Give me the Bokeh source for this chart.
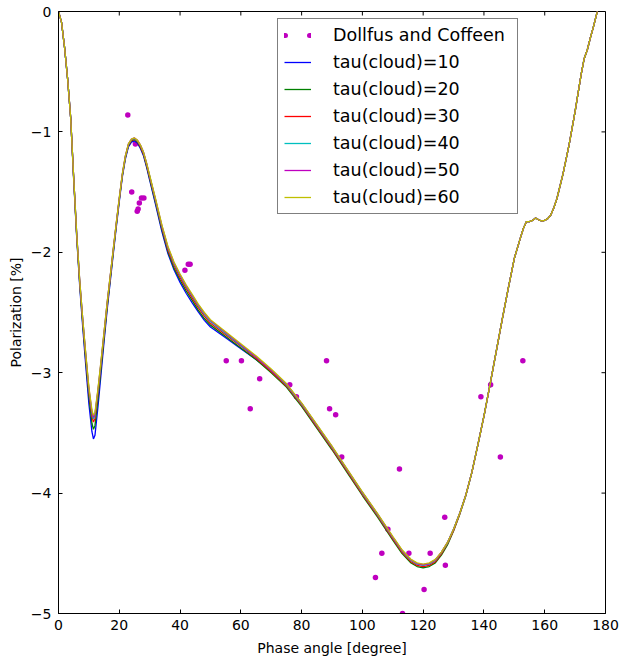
import math
from bokeh.plotting import figure
from bokeh.models import (Range1d, FixedTicker, Legend, LegendItem,
                          CustomJSTickFormatter)
from bokeh.embed import file_html
from bokeh.resources import INLINE

# ---- observations (Dollfus and Coffeen) ----
obs_angle = [22.8, 24.1, 25.3, 25.9, 26.2, 26.6, 27.3, 28.1, 41.6, 42.7, 43.3,
             55.2, 60.2, 63.1, 66.2, 76.1, 78.3, 88.2, 89.2, 91.2, 93.2,
             104.3, 106.4, 108.4, 112.2, 113.2, 115.3, 120.3, 122.3, 127.1,
             127.3, 139.0, 142.2, 145.4, 152.8]
obs_pol = [-0.86, -1.50, -1.10, -1.66, -1.64, -1.59, -1.55, -1.55, -2.15, -2.10,
           -2.10, -2.90, -2.90, -3.30, -3.05, -3.10, -3.20, -2.90, -3.30, -3.35,
           -3.70, -4.70, -4.50, -4.30, -3.80, -5.00, -4.50, -4.80, -4.50, -4.20,
           -4.60, -3.20, -3.10, -3.70, -2.90]

# ---- model curves ----
angle_head = [0, 1, 2, 3, 4]
pol_head = [0.0, -0.09, -0.30, -0.56, -0.88]

angle_mid = [5, 6, 7, 8, 9, 10, 11, 11.5, 12, 13, 14, 15, 16, 17, 18, 19, 20, 21,
             22, 23, 24, 25, 26, 27, 28, 29, 30,
             32, 34, 36, 38, 40, 42, 44, 46, 48, 50,
             55, 60, 65, 70, 75, 80, 85, 90, 95, 100, 105, 110,
             113, 116, 118, 120, 122, 124, 126, 128, 130, 132, 134]

pol_tau10_mid = [-1.40, -1.88, -2.29, -2.63, -2.95, -3.26, -3.49, -3.55, -3.52, -3.28,
                 -3.01, -2.74, -2.48, -2.25, -2.02, -1.795, -1.58, -1.375, -1.225,
                 -1.125, -1.085, -1.075, -1.095, -1.14, -1.20, -1.295, -1.40,
                 -1.61, -1.825, -2.01, -2.145, -2.25, -2.34, -2.42, -2.495, -2.565, -2.62,
                 -2.71, -2.80, -2.89, -2.99, -3.10, -3.255, -3.435, -3.615, -3.805,
                 -3.995, -4.175, -4.365,
                 -4.475, -4.555, -4.585, -4.595, -4.585, -4.555, -4.495, -4.41, -4.30,
                 -4.17, -4.02]
pol_tau20_mid = [-1.39, -1.87, -2.27, -2.60, -2.91, -3.20, -3.42, -3.47, -3.44, -3.22,
                 -2.965, -2.71, -2.46, -2.23, -2.005, -1.78, -1.565, -1.365, -1.215,
                 -1.115, -1.075, -1.065, -1.085, -1.13, -1.19, -1.285, -1.39,
                 -1.595, -1.81, -1.995, -2.13, -2.23, -2.32, -2.40, -2.48, -2.55, -2.605,
                 -2.70, -2.795, -2.89, -3.00, -3.12, -3.28, -3.46, -3.64, -3.83,
                 -4.02, -4.20, -4.39,
                 -4.50, -4.58, -4.61, -4.62, -4.61, -4.58, -4.515, -4.43, -4.315,
                 -4.18, -4.025]
pol_tau30_mid = [-1.385, -1.86, -2.255, -2.58, -2.88, -3.16, -3.36, -3.41, -3.38, -3.17,
                 -2.93, -2.685, -2.44, -2.215, -1.99, -1.77, -1.56, -1.36, -1.21,
                 -1.11, -1.07, -1.06, -1.08, -1.125, -1.185, -1.275, -1.375,
                 -1.58, -1.795, -1.98, -2.11, -2.21, -2.30, -2.38, -2.46, -2.53, -2.59,
                 -2.685, -2.78, -2.88, -2.99, -3.11, -3.27, -3.45, -3.63, -3.82,
                 -4.01, -4.19, -4.38,
                 -4.49, -4.57, -4.60, -4.61, -4.60, -4.57, -4.505, -4.42, -4.31,
                 -4.175, -4.02]
pol_tau40_mid = [-1.38, -1.85, -2.245, -2.565, -2.86, -3.14, -3.335, -3.383, -3.355, -3.15,
                 -2.915, -2.67, -2.425, -2.205, -1.985, -1.765, -1.555, -1.355, -1.205,
                 -1.105, -1.065, -1.055, -1.075, -1.115, -1.175, -1.265, -1.365,
                 -1.575, -1.785, -1.965, -2.095, -2.195, -2.285, -2.365, -2.445, -2.515,
                 -2.575,
                 -2.675, -2.775, -2.87, -2.98, -3.10, -3.26, -3.44, -3.62, -3.81,
                 -4.00, -4.18, -4.37,
                 -4.48, -4.56, -4.59, -4.60, -4.59, -4.56, -4.495, -4.415, -4.30,
                 -4.17, -4.02]
pol_tau50_mid = [-1.38, -1.85, -2.24, -2.56, -2.855, -3.13, -3.323, -3.37, -3.343, -3.14,
                 -2.905, -2.66, -2.42, -2.20, -1.98, -1.76, -1.55, -1.35, -1.20,
                 -1.10, -1.06, -1.05, -1.07, -1.11, -1.17, -1.26, -1.367,
                 -1.567, -1.777, -1.957, -2.087, -2.187, -2.277, -2.357, -2.437, -2.507,
                 -2.567,
                 -2.667, -2.767, -2.867, -2.977, -3.095, -3.255, -3.435, -3.615, -3.805,
                 -3.995, -4.175, -4.365,
                 -4.475, -4.555, -4.585, -4.595, -4.585, -4.555, -4.49, -4.41, -4.30,
                 -4.17, -4.02]
pol_tau60_mid = [-1.38, -1.85, -2.24, -2.56, -2.85, -3.12, -3.31, -3.355, -3.33, -3.13,
                 -2.90, -2.66, -2.42, -2.20, -1.98, -1.76, -1.55, -1.35, -1.20,
                 -1.10, -1.06, -1.05, -1.07, -1.11, -1.17, -1.26, -1.36,
                 -1.56, -1.77, -1.95, -2.08, -2.18, -2.27, -2.35, -2.43, -2.50, -2.56,
                 -2.66, -2.76, -2.86, -2.97, -3.09, -3.25, -3.43, -3.61, -3.80,
                 -3.99, -4.17, -4.36,
                 -4.47, -4.55, -4.58, -4.59, -4.58, -4.55, -4.49, -4.41, -4.30,
                 -4.17, -4.02]

angle_tail = [136, 138, 140, 142, 144, 146, 148, 150, 152, 153, 154, 155, 156, 157,
              158, 159, 160, 161, 162, 163, 164, 166, 168, 170, 172, 173, 174, 175,
              176, 177, 178]
pol_tail = [-3.83, -3.60, -3.36, -3.10, -2.83, -2.56, -2.30, -2.05, -1.88, -1.80,
            -1.745, -1.745, -1.735, -1.715, -1.73, -1.74, -1.735, -1.72, -1.69, -1.63,
            -1.555, -1.35, -1.11, -0.83, -0.52, -0.39, -0.32, -0.22, -0.13, -0.03, 0.07]

tau_values = [10, 20, 30, 40, 50, 60]
tau_mid = [pol_tau10_mid, pol_tau20_mid, pol_tau30_mid,
           pol_tau40_mid, pol_tau50_mid, pol_tau60_mid]
tau_colors = ["#0000ff", "#008000", "#ff0000", "#00bfbf", "#bf00bf", "#bfbf00"]

x_ticks = [0, 20, 40, 60, 80, 100, 120, 140, 160, 180]
y_ticks = [-5, -4, -3, -2, -1, 0]
x_min, x_max = 0, 180
y_min, y_max = -5, 0

FONT = "DejaVu Sans"

p = figure(width=622, height=661, x_range=Range1d(x_min, x_max),
           y_range=Range1d(y_min, y_max),
           output_backend="svg", toolbar_location=None,
           min_border_left=58, min_border_right=17, min_border_top=11,
           min_border_bottom=48)
p.background_fill_color = "white"
p.border_fill_color = "white"
p.outline_line_color = "black"
p.outline_line_width = 1
p.xgrid.visible = False
p.ygrid.visible = False

minus_fmt = CustomJSTickFormatter(code="""
    return tick < 0 ? "\\u2212" + Math.abs(tick).toString() : tick.toString();
""")

def style_axis(ax, ticks):
    ax.ticker = FixedTicker(ticks=ticks)
    ax.major_tick_in = 4
    ax.major_tick_out = 0
    ax.minor_tick_in = 0
    ax.minor_tick_out = 0
    ax.major_tick_line_color = "black"
    ax.axis_line_color = "black"
    ax.major_label_text_font = FONT
    ax.major_label_text_color = "black"
    ax.major_label_text_font_size = "14px"
    ax.formatter = minus_fmt
    ax.axis_label_text_font = FONT
    ax.axis_label_text_font_style = "normal"
    ax.axis_label_text_color = "black"
    ax.axis_label_text_font_size = "14px"

xa = p.xaxis[0]
ya = p.yaxis[0]
style_axis(xa, x_ticks)
style_axis(ya, y_ticks)
xa.axis_label = "Phase angle [degree]"
ya.axis_label = "Polarization [%]"
xa.major_label_standoff = 6
ya.major_label_standoff = 7
xa.axis_label_standoff = 7
ya.axis_label_standoff = 4

# inward ticks on the top and right spines (matplotlib classic look)
p.ray(x=x_ticks, y=[y_max] * len(x_ticks), length=4, length_units="screen",
      angle=-math.pi / 2, line_color="black", line_width=1)
p.ray(x=[x_max] * len(y_ticks), y=y_ticks, length=4, length_units="screen",
      angle=math.pi, line_color="black", line_width=1)

# observations
obs_r = p.scatter(obs_angle, obs_pol, size=5.5, marker="circle",
                  fill_color="#bf00bf", line_color=None)
# legend proxy (not drawn in the plot: a single NaN point): two dots in the
# legend, like matplotlib's numpoints=2
nan = float("nan")
obs_proxy = p.line([nan], [nan], line_color="#bf00bf", line_width=5,
                   line_cap="round", line_dash="1 24")

items = [LegendItem(label="Dollfus and Coffeen", renderers=[obs_proxy])]
for tau, mid, col in zip(tau_values, tau_mid, tau_colors):
    r = p.line(angle_head + angle_mid + angle_tail, pol_head + mid + pol_tail,
               line_color=col, line_width=1.3)
    items.append(LegendItem(label=f"tau(cloud)={tau}", renderers=[r]))

legend = Legend(items=items, location=(219, 399))
legend.border_line_color = "black"
legend.border_line_width = 1
legend.background_fill_color = "white"
legend.background_fill_alpha = 1
legend.label_text_font = FONT
legend.label_text_font_size = "17.5px"
legend.label_text_color = "black"
legend.glyph_width = 27
legend.glyph_height = 20
legend.label_height = 20
legend.label_width = 178
legend.label_standoff = 22
legend.spacing = 7
legend.padding = 6
legend.margin = 0
p.add_layout(legend)

open("out.html", "w").write(file_html(p, INLINE))
